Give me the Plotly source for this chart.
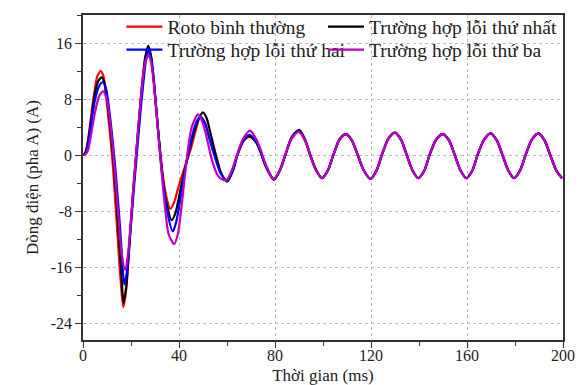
import plotly.graph_objects as go

# steady-state tail shared by all cases (t >= 99.6 ms)
tail_t = [99.6, 102, 104.5, 107, 109.7, 112, 114.6, 117, 119.8, 122.3, 124.7, 127.3, 130, 132.5, 135, 137.3,
          139.7, 142.2, 144.6, 147.3, 150, 152.5, 155, 157.3, 159.7, 162.2, 164.6, 167.3, 169.9, 172.4, 174.9,
          177.2, 179.6, 182.1, 184.6, 187.2, 189.8, 192.3, 194.8, 197.2, 199.6]
tail_v = [-3.3, -2.2, 0.2, 2.3, 3.0, 2.1, -0.1, -2.2, -3.4, -2.2, 0.2, 2.4, 3.2, 2.2, -0.1, -2.2,
          -3.3, -2.2, 0.2, 2.3, 3.0, 2.1, -0.1, -2.2, -3.3, -2.2, 0.2, 2.3, 3.1, 2.1, -0.1,
          -2.2, -3.3, -2.2, 0.2, 2.3, 3.1, 2.1, -0.1, -2.2, -3.3]

# Roto bình thường
red_t = [0, 1, 2, 3, 4, 5, 6, 7.4, 8.5, 9.5, 10.5, 11.5, 12.5, 13.5, 14.5, 15.6, 16.8, 18, 19, 20, 21, 22, 23,
         24, 25, 26, 27.2, 28.3, 29.3, 30.3, 31.3, 32.3, 33.3, 34.5, 36.4, 38, 39.5, 41, 42.5, 44, 45.5, 47,
         48.8, 50.7, 52.5, 54, 55.5, 57.2, 59.8, 62.3, 64.3, 66.8, 69.5, 72, 74, 76, 79.5, 82, 84.3, 87, 89.9,
         92.3, 94.7, 97]
red_v = [0, 0.4, 2.0, 4.5, 7.2, 9.6, 11.3, 12.0, 11.3, 8.8, 5.6, 2.2, -1.8, -6.8, -12.0, -17.5, -21.7, -19.2,
         -14.5, -9.5, -4.8, -0.6, 3.6, 7.6, 11.2, 13.9, 15.2, 14.0, 11.2, 7.4, 3.5, 0, -3.0, -5.6, -7.7, -6.7,
         -4.9, -3.2, -1.6, -0.1, 1.6, 3.6, 5.4, 4.7, 2.6, 0.9, -0.6, -2.4, -3.6, -2.1, 0, 2.0, 2.6, 1.9, 0.5,
         -1.4, -3.5, -2.2, 0, 2.4, 3.3, 2.2, 0, -2.0]

# Trường hợp lỗi thứ nhất
black_t = [0, 1, 2, 3, 4, 5, 6.3, 7.8, 9, 10, 11, 12, 13, 14, 15, 16, 16.9, 18, 19, 20, 21, 22, 23, 24, 25,
           26, 27.2, 28.3, 29.3, 30.3, 31.3, 32.3, 33.3, 34.5, 37, 38.5, 40, 41.5, 43, 44.5, 46, 48, 49.9,
           51.5, 53, 54.5, 56, 57.5, 60, 62.4, 64.3, 66.8, 69, 72, 74, 76, 79.5, 82, 84.3, 87, 90.1, 92.4,
           94.7, 97]
black_v = [0, 0.3, 1.7, 4.0, 6.5, 8.8, 10.5, 11.1, 10.2, 8.0, 5.0, 1.8, -2.0, -6.8, -12.0, -17.0, -21.1,
           -18.8, -14.3, -9.4, -4.8, -0.6, 3.6, 7.7, 11.3, 14.1, 15.6, 14.3, 11.4, 7.4, 3.5, -0.2, -3.5, -6.4,
           -9.3, -8.3, -6.0, -3.5, -1.2, 1.0, 3.0, 5.0, 6.1, 5.3, 3.3, 1.2, -0.8, -2.5, -3.8, -2.3, 0, 2.0,
           2.7, 1.9, 0.4, -1.5, -3.5, -2.2, 0, 2.6, 3.6, 2.3, 0, -2.1]

# Trường hợp lỗi thứ hai
blue_t = [0, 1, 2, 3, 4, 5, 6.5, 8.2, 9.5, 10.5, 11.5, 12.5, 13.5, 14.5, 15.5, 16.3, 17.2, 18.3, 19.3, 20.3,
          21.3, 22.3, 23.3, 24.3, 25.3, 26.2, 27.3, 28.4, 29.4, 30.4, 31.4, 32.4, 33.4, 34.6, 37.4, 38.8,
          40.2, 41.6, 43, 44.5, 46, 47.5, 49, 50.8, 52.5, 54, 55.5, 57.2, 60, 62.4, 64.3, 66.8, 69.3, 72, 74,
          76, 79.5, 82, 84.3, 87, 90, 92.4, 94.7, 97]
blue_v = [0, 0.2, 1.4, 3.5, 5.8, 7.9, 9.7, 10.4, 9.6, 7.6, 4.8, 1.6, -2.0, -6.2, -10.6, -14.8, -18.5, -16.6,
          -12.8, -8.6, -4.4, -0.4, 3.6, 7.4, 10.8, 13.5, 15.0, 13.8, 11.0, 7.2, 3.2, -0.6, -4.0, -7.2, -10.9,
          -9.6, -7.0, -4.0, -1.2, 1.3, 3.4, 4.9, 5.5, 4.6, 2.6, 0.8, -0.9, -2.5, -3.7, -2.2, 0, 2.1, 2.9, 2.0,
          0.5, -1.4, -3.4, -2.2, 0, 2.5, 3.4, 2.3, 0, -2.1]

# Trường hợp lỗi thứ ba
mag_t = [0, 1, 2, 3, 4, 5, 6, 7, 8.5, 10, 11, 12, 13, 14, 15, 16, 17.6, 18.8, 19.8, 20.8, 21.8, 22.8, 23.8,
         24.8, 25.9, 27.4, 28.5, 29.5, 30.5, 31.5, 32.5, 33.5, 34.5, 35.7, 38, 39.5, 41, 42.5, 44, 45.5, 48,
         50, 52, 54, 56, 57.5, 59.7, 62, 64, 66.5, 69.6, 72, 74, 76, 79.3, 82, 84.2, 87, 90, 92.4, 94.6, 97]
mag_v = [0, 0.1, 0.6, 2.2, 4.2, 6.1, 7.6, 8.6, 9.1, 7.8, 5.5, 2.5, -1.2, -5.5, -9.8, -13.8, -16.4, -14.0,
         -10.0, -5.5, -1.2, 3.0, 7.0, 10.5, 13.2, 14.3, 13.0, 10.2, 6.5, 2.5, -1.5, -5.2, -8.5, -11.3, -12.7,
         -11.3, -7.5, -2.8, 1.5, 4.2, 5.8, 4.5, 1.8, -1.0, -2.8, -3.4, -3.6, -2.2, -0.2, 2.2, 3.5, 2.4, 0.8,
         -1.2, -3.4, -2.2, 0, 2.4, 3.3, 2.2, 0, -2.1]

series = [
    ("Roto bình thường", red_t, red_v, "#FF0000", "legend"),
    ("Trường hợp lỗi thứ nhất", black_t, black_v, "#000000", "legend2"),
    ("Trường hợp lỗi thứ hai", blue_t, blue_v, "#0000FF", "legend3"),
    ("Trường hợp lỗi thứ ba", mag_t, mag_v, "#C000C0", "legend4"),
]

x_ticks = [0, 40, 80, 120, 160, 200]
y_ticks = [-24, -16, -8, 0, 8, 16]

FONT = "Liberation Serif"

fig = go.Figure()
for name, t, v, color, lg in series:
    fig.add_trace(go.Scatter(
        x=t + tail_t, y=v + tail_v, name=name, mode="lines",
        line=dict(color=color, width=2.2, shape="spline", smoothing=0.8),
        legend=lg,
    ))

axis_common = dict(
    showline=True, linecolor="#333333", linewidth=1.5, mirror=True,
    ticks="outside", ticklen=6, tickwidth=1.2, tickcolor="#333333",
    showgrid=True, gridcolor="#BBBBBB", griddash="dot", gridwidth=1,
    zeroline=False, automargin=False,
    tickfont=dict(family=FONT, size=16, color="#222222"),
)

# margins: top 5 px (so legends need little padding); the y domain brings the plot top to 15 px
PLOT_H = 385 - 5 - 45
Y_TOP = (340 - 15) / PLOT_H

fig.update_xaxes(
    range=[0, 200], tickvals=x_ticks, ticktext=[str(v) for v in x_ticks],
    minor=dict(dtick=20, tick0=0, ticks="outside", ticklen=4, tickcolor="#333333", showgrid=False),
    ticklabelstandoff=-6,
    title=dict(text="Thời gian (ms)", font=dict(family=FONT, size=17, color="#222222"), standoff=18),
    **axis_common,
)
fig.update_yaxes(
    range=[-26.4, 20], tickvals=y_ticks, ticktext=[str(v) for v in y_ticks], domain=[0, Y_TOP],
    minor=dict(dtick=4, tick0=0, ticks="outside", ticklen=4, tickcolor="#333333", showgrid=False),
    title=dict(text="Dòng điện (pha A) (A)", font=dict(family=FONT, size=17, color="#222222"), standoff=8),
    **axis_common,
)

legend_common = dict(
    bgcolor="rgba(0,0,0,0)", borderwidth=0, xanchor="left", yanchor="middle",
    font=dict(family=FONT, size=19.5, color="#222222"), tracegroupgap=0, itemwidth=36,
)
row1 = (340 - 27) / PLOT_H
row2 = (340 - 50) / PLOT_H
fig.update_layout(
    width=582, height=385,
    margin=dict(l=83, r=19, t=5, b=45),
    paper_bgcolor="white", plot_bgcolor="white",
    legend=dict(x=0.08, y=row1, **legend_common),
    legend2=dict(x=0.50, y=row1, **legend_common),
    legend3=dict(x=0.08, y=row2, **legend_common),
    legend4=dict(x=0.50, y=row2, **legend_common),
    showlegend=True,
)

fig.write_html("out.html")
